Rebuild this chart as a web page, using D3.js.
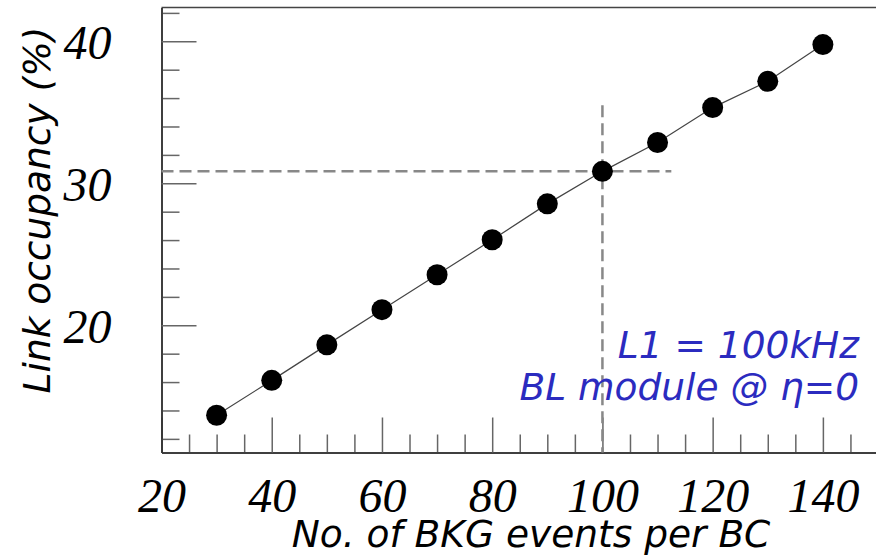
<!DOCTYPE html>
<html>
<head>
<meta charset="utf-8">
<script src="https://cdn.jsdelivr.net/npm/d3@7"></script>
<style>
  body { margin: 0; background: #fff; }
  svg { display: block; }
  .axis path.domain { stroke: #333; stroke-width: 1.5px; }
  .axis line { stroke: #666; stroke-width: 1.5px; }
  .axis text { font-family: "Liberation Serif", serif; font-style: italic; font-size: 48px; fill: #000; }
  .lab { font-family: "DejaVu Sans", sans-serif; font-style: italic; font-size: 37.5px; }
</style>
</head>
<body>
<svg id="chart"></svg>
<script>
// data
var bkgEvents = [30, 40, 50, 60, 70, 80, 90, 100, 110, 120, 130, 140];
var occupancy = [13.66, 16.12, 18.62, 21.1, 23.56, 26.02, 28.55, 30.84, 32.87, 35.33, 37.18, 39.77];
var xMajorTicks = [20, 40, 60, 80, 100, 120, 140];
var yMajorTicks = [20, 30, 40];
var refX = 100, refY = 30.84;       // working point guide lines
var refHLineEnd = 112.5, refVLineTop = 35.5;
var noteLines = ["L1 = 100kHz", "BL module @ \u03b7=0"];

(function () {
  var W = 876, H = 556;
  var svg = d3.select("#chart").attr("width", W).attr("height", H);

  var x = d3.scaleLinear().domain([20, 150]).range([161.5, 878]);
  var y = d3.scaleLinear().domain([11.04, 42.38]).range([452.5, 7.5]);

  var xMinor = d3.range(20, 151, 5).filter(function (d) { return xMajorTicks.indexOf(d) < 0; });
  var yMinor = d3.range(12, 43, 2).filter(function (d) { return yMajorTicks.indexOf(d) < 0; });

  // top frame line
  svg.append("line")
    .attr("x1", x(20)).attr("x2", x(150))
    .attr("y1", y(42.38)).attr("y2", y(42.38))
    .attr("stroke", "#444").attr("stroke-width", 1.5);

  // bottom axis: minor + major ticks pointing inward
  svg.append("g").attr("class", "axis")
    .attr("transform", "translate(0," + y(11.04) + ")")
    .call(d3.axisBottom(x).tickValues(xMinor).tickSizeInner(-18).tickSizeOuter(0).tickFormat(""));
  var xAx = svg.append("g").attr("class", "axis")
    .attr("transform", "translate(0," + y(11.04) + ")")
    .call(d3.axisBottom(x).tickValues(xMajorTicks).tickSizeInner(-35).tickSizeOuter(0).tickPadding(0));
  xAx.selectAll("text").attr("y", 59).attr("dy", 0);

  // left axis
  svg.append("g").attr("class", "axis")
    .attr("transform", "translate(" + x(20) + ",0)")
    .call(d3.axisLeft(y).tickValues(yMinor).tickSizeInner(-18).tickSizeOuter(0).tickFormat(""));
  var yAx = svg.append("g").attr("class", "axis")
    .attr("transform", "translate(" + x(20) + ",0)")
    .call(d3.axisLeft(y).tickValues(yMajorTicks).tickSizeInner(-35).tickSizeOuter(0));
  yAx.selectAll("text").attr("x", -50).attr("dy", "0.35em");

  // guide lines
  svg.append("line")
    .attr("x1", x(20)).attr("x2", x(refHLineEnd))
    .attr("y1", y(refY)).attr("y2", y(refY))
    .attr("stroke", "#888").attr("stroke-width", 2.5).attr("stroke-dasharray", "12,6");
  svg.append("line")
    .attr("x1", x(refX)).attr("x2", x(refX))
    .attr("y1", y(refVLineTop)).attr("y2", y(11.04))
    .attr("stroke", "#888").attr("stroke-width", 2.5).attr("stroke-dasharray", "12,6");

  var pts = bkgEvents.map(function (d, i) { return [d, occupancy[i]]; });

  svg.append("path")
    .datum(pts)
    .attr("fill", "none").attr("stroke", "#444").attr("stroke-width", 1.2)
    .attr("d", d3.line().x(function (d) { return x(d[0]); }).y(function (d) { return y(d[1]); }));

  svg.selectAll("circle.pt")
    .data(pts)
    .enter().append("circle")
    .attr("class", "pt")
    .attr("cx", function (d) { return x(d[0]); })
    .attr("cy", function (d) { return y(d[1]); })
    .attr("r", 10.5)
    .attr("fill", "#000");

  // axis titles
  svg.append("text").attr("class", "lab")
    .attr("text-anchor", "middle")
    .attr("x", 531).attr("y", 547)
    .text("No. of BKG events per BC");

  svg.append("text").attr("class", "lab")
    .attr("text-anchor", "middle")
    .attr("transform", "translate(50,210)rotate(-90)")
    .text("Link occupancy (%)");

  // note
  svg.selectAll("text.note")
    .data(noteLines)
    .enter().append("text")
    .attr("class", "lab note")
    .attr("text-anchor", "end")
    .attr("x", 859)
    .attr("y", function (d, i) { return 358 + i * 42; })
    .attr("fill", "#2b2bbf")
    .text(function (d) { return d; });
})();
</script>
</body>
</html>
